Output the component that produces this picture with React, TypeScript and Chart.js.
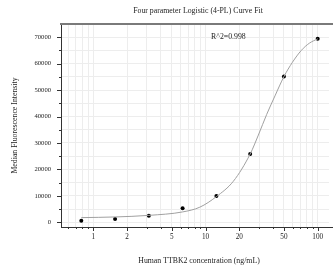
import React, { useEffect, useRef } from 'react';
import { Chart, registerables } from 'chart.js';

Chart.register(...registerables);

// Standards (ng/mL) and measured MFI
const concentrations = [0.78125, 1.5625, 3.125, 6.25, 12.5, 25, 50, 100];
const mfi = [600, 1250, 2500, 5300, 9900, 25800, 55100, 69400];

// Fitted 4-PL curve
const fitX = [0.78125, 1.5625, 3.125, 6.25, 8.9, 12.5, 17.7, 25, 29.6, 35.1, 41.6, 50, 59.5, 71.4, 84, 100];
const fitY = [1750, 2000, 2600, 3900, 5700, 9700, 15500, 25800, 33000, 40800, 47800, 55100, 60500, 65000, 67700, 69400];

const xTickValues = [0.6, 0.7, 0.8, 0.9, 1, 2, 3, 4, 5, 6, 7, 8, 9, 10, 20, 30, 40, 50, 60, 70, 80, 90, 100];
const xTickLabels = [1, 2, 5, 10, 20, 50, 100];
const yTickValues = [0, 5000, 10000, 15000, 20000, 25000, 30000, 35000, 40000, 45000, 50000, 55000, 60000, 65000, 70000, 75000];
const yLabelStep = 10000;

const titleText = 'Four parameter Logistic (4-PL) Curve Fit';
const xTitle = 'Human TTBK2 concentration (ng/mL)';
const yTitle = 'Median Fluorescence Intensity';
const r2Text = 'R^2=0.998';

const SERIF = '"Liberation Serif", "Times New Roman", serif';

export default function App() {
  const ref = useRef<HTMLCanvasElement | null>(null);

  useEffect(() => {
    const canvas = ref.current;
    if (!canvas) return;

    const decorPlugin = {
      id: 'decor',
      afterDraw(chart: any) {
        const { ctx, chartArea, width } = chart;
        const xs = chart.scales.x;
        const ys = chart.scales.y;
        ctx.save();
        // top frame line
        ctx.strokeStyle = '#7a7a7a';
        ctx.lineWidth = 2;
        ctx.beginPath();
        ctx.moveTo(chartArea.left - 1, chartArea.top);
        ctx.lineTo(width, chartArea.top);
        ctx.stroke();
        // bottom axis continuation to the canvas edge
        ctx.strokeStyle = '#333';
        ctx.lineWidth = 1;
        ctx.beginPath();
        ctx.moveTo(chartArea.right, chartArea.bottom + 0.5);
        ctx.lineTo(width, chartArea.bottom + 0.5);
        // tick marks
        for (const v of yTickValues) {
          if (v > 70000) continue;
          const y = Math.round(ys.getPixelForValue(v)) + 0.5;
          const len = v % yLabelStep === 0 ? 4 : 2;
          ctx.moveTo(chartArea.left - len, y);
          ctx.lineTo(chartArea.left, y);
        }
        for (const v of xTickValues) {
          const x = Math.round(xs.getPixelForValue(v)) + 0.5;
          const len = xTickLabels.includes(v) ? 4 : 2;
          ctx.moveTo(x, chartArea.bottom);
          ctx.lineTo(x, chartArea.bottom + len);
        }
        ctx.stroke();
        // texts
        const plotCenter = (chartArea.left + width) / 2;
        ctx.fillStyle = '#222';
        ctx.font = '7.8px ' + SERIF;
        ctx.textAlign = 'center';
        ctx.textBaseline = 'middle';
        ctx.fillText(titleText, plotCenter + 1, 11.2);
        ctx.fillText(xTitle, plotCenter + 2, 261);
        ctx.fillText(r2Text, xs.getPixelForValue(16), ys.getPixelForValue(70000));
        ctx.restore();
      },
    };

    const chart = new Chart(canvas, {
      type: 'scatter',
      data: {
        datasets: [
          {
            label: 'fit',
            data: fitX.map((x, i) => ({ x, y: fitY[i] })),
            showLine: true,
            borderColor: '#a0a0a0',
            borderWidth: 1,
            pointRadius: 0,
            cubicInterpolationMode: 'monotone',
            fill: false,
          },
          {
            label: 'standards',
            data: concentrations.map((x, i) => ({ x, y: mfi[i] })),
            showLine: false,
            backgroundColor: '#000',
            borderColor: '#000',
            pointRadius: 2,
            pointBorderWidth: 0,
          },
        ],
      },
      options: {
        animation: false,
        responsive: false,
        devicePixelRatio: 1,
        layout: { padding: { left: 0, top: 24, bottom: 0, right: 0 } },
        plugins: {
          legend: { display: false },
          tooltip: { enabled: false },
          title: { display: false },
        },
        scales: {
          x: {
            type: 'logarithmic',
            bounds: 'data',
            min: 0.515,
            max: 126.1,
            afterBuildTicks: (s: any) => {
              s.ticks = xTickValues.map((v) => ({ value: v }));
            },
            afterFit: (s: any) => {
              s.height = 43;
              s.paddingLeft = 0;
              s.paddingRight = 0;
            },
            ticks: {
              autoSkip: false,
              maxRotation: 0,
              padding: 6,
              color: '#222',
              font: { family: SERIF, size: 7.2 },
              callback: (v: any) => (xTickLabels.includes(Number(v)) ? String(v) : ''),
            },
            grid: { drawTicks: false, color: '#ededed', lineWidth: 1 },
            border: { display: true, color: '#333', width: 1 },
            title: { display: false },
          },
          y: {
            type: 'linear',
            min: -1800,
            max: 75000,
            afterBuildTicks: (s: any) => {
              s.ticks = yTickValues.map((v) => ({ value: v }));
            },
            afterFit: (s: any) => {
              s.width = 61;
              s.paddingTop = 0;
              s.paddingBottom = 0;
            },
            ticks: {
              autoSkip: false,
              padding: 10,
              color: '#222',
              font: { family: SERIF, size: 6.6 },
              callback: (v: any) => (Number(v) % yLabelStep === 0 && Number(v) <= 70000 ? String(v) : ''),
            },
            grid: { drawTicks: false, color: '#ededed', lineWidth: 1 },
            border: { display: true, color: '#333', width: 1 },
            title: {
              display: true,
              text: yTitle,
              color: '#222',
              font: { family: SERIF, size: 7.8, lineHeight: 1.2 },
              padding: { top: 9.8, bottom: 0 },
            },
          },
        },
      },
      plugins: [decorPlugin],
    } as any);

    return () => chart.destroy();
  }, []);

  return (
    <div style={{ position: 'fixed', left: 0, top: 0, width: 333, height: 270, background: '#fff' }}>
      <canvas ref={ref} width={333} height={270} style={{ display: 'block', width: 333, height: 270 }} />
    </div>
  );
}
